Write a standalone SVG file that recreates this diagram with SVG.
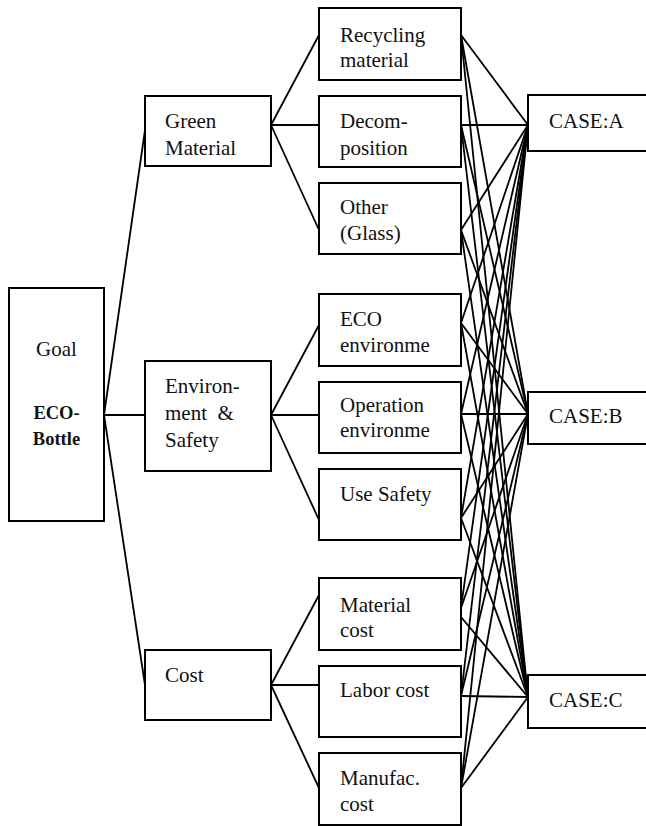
<svg xmlns="http://www.w3.org/2000/svg" width="646" height="826" viewBox="0 0 646 826">
  <style>
    .box { fill: #ffffff; stroke: #000000; stroke-width: 2; }
    .lbl { font-size: 21px; fill: #111111; }
    .bold { font-size: 18.5px; font-weight: bold; fill: #111111; }
    .links line { stroke: #000000; stroke-width: 1.8; }
  </style>
  <rect width="646" height="826" fill="#ffffff"/>

  <!-- connectors -->
  <g id="connectors" class="links">
    <!-- goal to criteria -->
    <line x1="104" y1="415" x2="145" y2="130"/>
    <line x1="104" y1="415" x2="145" y2="415"/>
    <line x1="104" y1="415" x2="145" y2="685"/>
    <!-- criteria to sub-criteria -->
    <line x1="271" y1="125" x2="319" y2="35"/>
    <line x1="271" y1="125" x2="319" y2="125"/>
    <line x1="271" y1="125" x2="319" y2="230"/>
    <line x1="271" y1="415" x2="319" y2="325"/>
    <line x1="271" y1="415" x2="319" y2="415"/>
    <line x1="271" y1="415" x2="319" y2="520"/>
    <line x1="271" y1="685" x2="319" y2="595"/>
    <line x1="271" y1="685" x2="319" y2="685"/>
    <line x1="271" y1="685" x2="319" y2="788"/>
    <!-- sub-criteria to CASE:A -->
    <line x1="461" y1="35" x2="528" y2="125"/>
    <line x1="461" y1="125" x2="528" y2="125"/>
    <line x1="461" y1="230" x2="528" y2="125"/>
    <line x1="461" y1="323" x2="528" y2="125"/>
    <line x1="461" y1="414" x2="528" y2="125"/>
    <line x1="461" y1="518" x2="528" y2="125"/>
    <line x1="461" y1="608" x2="528" y2="125"/>
    <line x1="461" y1="696" x2="528" y2="125"/>
    <line x1="461" y1="788" x2="528" y2="125"/>
    <!-- sub-criteria to CASE:B -->
    <line x1="461" y1="35" x2="528" y2="414"/>
    <line x1="461" y1="125" x2="528" y2="414"/>
    <line x1="461" y1="230" x2="528" y2="414"/>
    <line x1="461" y1="323" x2="528" y2="414"/>
    <line x1="461" y1="414" x2="528" y2="414"/>
    <line x1="461" y1="518" x2="528" y2="414"/>
    <line x1="461" y1="608" x2="528" y2="414"/>
    <line x1="461" y1="696" x2="528" y2="414"/>
    <line x1="461" y1="788" x2="528" y2="414"/>
    <!-- sub-criteria to CASE:C -->
    <line x1="461" y1="35" x2="528" y2="697"/>
    <line x1="461" y1="125" x2="528" y2="697"/>
    <line x1="461" y1="230" x2="528" y2="697"/>
    <line x1="461" y1="323" x2="528" y2="697"/>
    <line x1="461" y1="414" x2="528" y2="697"/>
    <line x1="461" y1="518" x2="528" y2="697"/>
    <line x1="461" y1="617" x2="528" y2="697"/>
    <line x1="461" y1="696" x2="528" y2="697"/>
    <line x1="461" y1="788" x2="528" y2="697"/>
  </g>

  <g id="nodes" font-family="'Liberation Serif', 'DejaVu Serif', serif">
  <!-- goal -->
  <g id="goal">
    <rect class="box" x="9" y="288" width="95" height="233"/>
    <text class="lbl" x="56.5" y="356" text-anchor="middle">Goal</text>
    <text class="bold" x="56.5" y="419" text-anchor="middle">ECO-</text>
    <text class="bold" x="56.5" y="445" text-anchor="middle">Bottle</text>
  </g>

  <!-- criteria -->
  <g id="green-material">
    <rect class="box" x="145" y="96" width="126" height="70"/>
    <text class="lbl" x="165" y="128">Green</text>
    <text class="lbl" x="165" y="155">Material</text>
  </g>
  <g id="environment-safety">
    <rect class="box" x="145" y="361" width="126" height="110"/>
    <text class="lbl" x="165" y="393">Environ-</text>
    <text class="lbl" x="165" y="420" xml:space="preserve">ment  &amp;</text>
    <text class="lbl" x="165" y="447">Safety</text>
  </g>
  <g id="cost">
    <rect class="box" x="145" y="650" width="126" height="70"/>
    <text class="lbl" x="165" y="682">Cost</text>
  </g>

  <!-- sub-criteria -->
  <g id="recycling-material">
    <rect class="box" x="319" y="8" width="142" height="72"/>
    <text class="lbl" x="340" y="42">Recycling</text>
    <text class="lbl" x="340" y="67">material</text>
  </g>
  <g id="decomposition">
    <rect class="box" x="319" y="96" width="142" height="71"/>
    <text class="lbl" x="340" y="128">Decom-</text>
    <text class="lbl" x="340" y="155">position</text>
  </g>
  <g id="other-glass">
    <rect class="box" x="319" y="183" width="142" height="71"/>
    <text class="lbl" x="340" y="214">Other</text>
    <text class="lbl" x="340" y="240">(Glass)</text>
  </g>
  <g id="eco-environment">
    <rect class="box" x="319" y="294" width="142" height="72"/>
    <text class="lbl" x="340" y="326">ECO</text>
    <text class="lbl" x="340" y="352">environme</text>
  </g>
  <g id="operation-environment">
    <rect class="box" x="319" y="382" width="142" height="71"/>
    <text class="lbl" x="340" y="412">Operation</text>
    <text class="lbl" x="340" y="437">environme</text>
  </g>
  <g id="use-safety">
    <rect class="box" x="319" y="469" width="142" height="71"/>
    <text class="lbl" x="340" y="501">Use Safety</text>
  </g>
  <g id="material-cost">
    <rect class="box" x="319" y="578" width="142" height="72"/>
    <text class="lbl" x="340" y="612">Material</text>
    <text class="lbl" x="340" y="637">cost</text>
  </g>
  <g id="labor-cost">
    <rect class="box" x="319" y="666" width="142" height="71"/>
    <text class="lbl" x="340" y="697">Labor cost</text>
  </g>
  <g id="manufacturing-cost">
    <rect class="box" x="319" y="753" width="142" height="72"/>
    <text class="lbl" x="340" y="785">Manufac.</text>
    <text class="lbl" x="340" y="811">cost</text>
  </g>

  <!-- alternatives -->
  <g id="case-a">
    <rect class="box" x="528" y="95" width="130" height="56"/>
    <text class="lbl" x="549" y="128">CASE:A</text>
  </g>
  <g id="case-b">
    <rect class="box" x="528" y="392" width="130" height="52"/>
    <text class="lbl" x="549" y="423">CASE:B</text>
  </g>
  <g id="case-c">
    <rect class="box" x="528" y="675" width="130" height="53"/>
    <text class="lbl" x="549" y="707">CASE:C</text>
  </g>
  </g>
</svg>
